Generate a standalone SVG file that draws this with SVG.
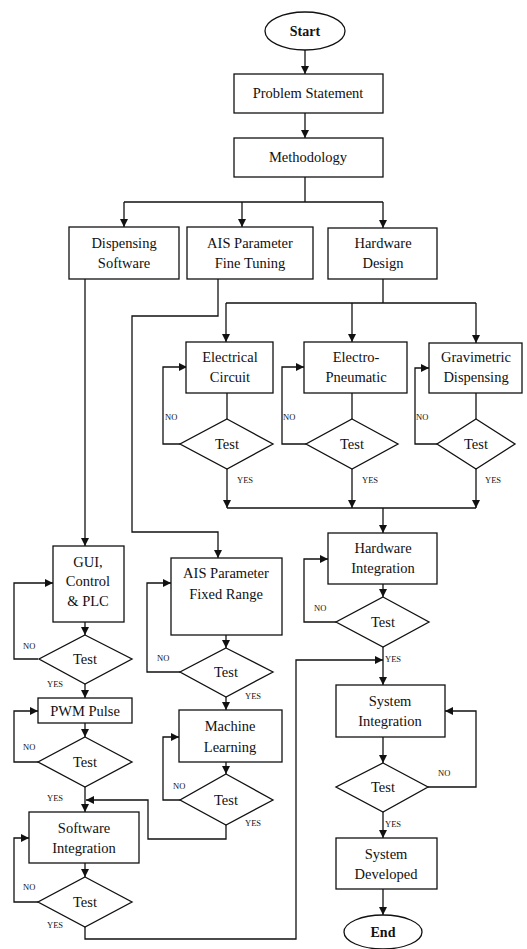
<svg xmlns="http://www.w3.org/2000/svg" width="527" height="949" viewBox="0 0 527 949">
<style>
.n{fill:#fff;stroke:#111;stroke-width:1.3}
.t{font-family:"Liberation Serif","Times New Roman",serif;font-size:14.5px;fill:#111;text-anchor:middle}
.b{font-weight:bold;font-size:14px}
.c{fill:none;stroke:#111;stroke-width:1.3}
.a{marker-end:url(#ah)}
.l{font-family:"Liberation Serif","Times New Roman",serif;font-size:8.5px;fill:#111}
</style>
<defs>
<marker id="ah" markerUnits="userSpaceOnUse" markerWidth="8" markerHeight="8" refX="8" refY="4" orient="auto">
<path d="M0,0 L8,4 L0,8 Z" fill="#111"/>
</marker>
</defs>
<rect width="527" height="949" fill="#fff"/>
<g id="connectors">
<path class="c a" d="M305,50 V74"/>
<path class="c a" d="M305,113 V138"/>
<path class="c" d="M305,177 V202 M124,202 H383"/>
<path class="c a" d="M124,202 V227"/>
<path class="c a" d="M242,202 V227"/>
<path class="c a" d="M383,202 V228"/>
<path class="c a" d="M85,279 V546"/>
<path class="c a" d="M218,279 V316 H132 V532 H218 V558"/>
<path class="c" d="M383,279 V303 M226,303 H476"/>
<path class="c a" d="M226,303 V342"/>
<path class="c a" d="M352,303 V342"/>
<path class="c a" d="M476,303 V343"/>
<path class="c" d="M227,393 V419 M352,393 V419 M476,393 V419"/>
<path class="c a" d="M180,444 H163 V367 H187"/>
<path class="c a" d="M306,444 H282 V367 H304"/>
<path class="c a" d="M437,444 H415 V368 H429"/>
<path class="c a" d="M227,469 V508"/>
<path class="c a" d="M352,469 V508"/>
<path class="c a" d="M476,469 V508"/>
<path class="c" d="M227,508 H476"/>
<path class="c a" d="M383,508 V533"/>
<path class="c a" d="M383,584 V597"/>
<path class="c a" d="M336,622 H304 V559 H328"/>
<path class="c a" d="M383,647 V685"/>
<path class="c a" d="M85,927 V939 H296 V660 H383"/>
<path class="c a" d="M383,737 V763"/>
<path class="c a" d="M428,787 H476 V711 H445"/>
<path class="c a" d="M383,812 V838"/>
<path class="c a" d="M383,889 V915"/>
<path class="c a" d="M85,622 V635"/>
<path class="c a" d="M38,659 H14 V583 H53"/>
<path class="c a" d="M85,684 V698"/>
<path class="c a" d="M85,723 V737"/>
<path class="c a" d="M38,762 H14 V711 H38"/>
<path class="c a" d="M85,787 V812"/>
<path class="c a" d="M85,863 V877"/>
<path class="c a" d="M38,902 H14 V838 H29"/>
<path class="c a" d="M226,635 V648"/>
<path class="c a" d="M180,672 H147 V583 H171"/>
<path class="c a" d="M226,697 V710"/>
<path class="c a" d="M226,762 V774"/>
<path class="c a" d="M180,800 H163 V737 H179"/>
<path class="c a" d="M226,825 V839 H148 V800 H86"/>
</g>
<g id="labels">
<text class="l" x="165" y="420">NO</text>
<text class="l" x="283" y="420">NO</text>
<text class="l" x="416" y="420">NO</text>
<text class="l" x="237" y="483">YES</text>
<text class="l" x="362" y="483">YES</text>
<text class="l" x="485" y="483">YES</text>
<text class="l" x="314" y="611">NO</text>
<text class="l" x="385" y="662">YES</text>
<text class="l" x="438" y="776">NO</text>
<text class="l" x="385" y="827">YES</text>
<text class="l" x="23" y="649">NO</text>
<text class="l" x="47" y="687">YES</text>
<text class="l" x="23" y="750">NO</text>
<text class="l" x="47" y="801">YES</text>
<text class="l" x="23" y="890">NO</text>
<text class="l" x="47" y="928">YES</text>
<text class="l" x="157" y="661">NO</text>
<text class="l" x="245" y="699">YES</text>
<text class="l" x="173" y="789">NO</text>
<text class="l" x="245" y="826">YES</text>
</g>
<g id="start"><ellipse class="n" cx="305" cy="31" rx="40" ry="19"/><text class="t b" x="305" y="36">Start</text></g>
<g id="problem"><rect class="n" x="234" y="74" width="149" height="39"/><text class="t" x="308" y="98">Problem Statement</text></g>
<g id="methodology"><rect class="n" x="234" y="138" width="149" height="39"/><text class="t" x="308" y="162">Methodology</text></g>
<g id="dispensing-software"><rect class="n" x="69" y="227" width="110" height="52"/><text class="t" x="124" y="248">Dispensing</text><text class="t" x="124" y="268">Software</text></g>
<g id="ais-fine"><rect class="n" x="187" y="227" width="126" height="52"/><text class="t" x="250" y="248">AIS Parameter</text><text class="t" x="250" y="268">Fine Tuning</text></g>
<g id="hardware-design"><rect class="n" x="328" y="228" width="109" height="51"/><text class="t" x="383" y="248">Hardware</text><text class="t" x="383" y="268">Design</text></g>
<g id="electrical"><rect class="n" x="186" y="342" width="87" height="51"/><text class="t" x="230" y="362">Electrical</text><text class="t" x="230" y="382">Circuit</text></g>
<g id="electro-pneumatic"><rect class="n" x="304" y="342" width="103" height="51"/><text class="t" x="356" y="362">Electro-</text><text class="t" x="356" y="382">Pneumatic</text></g>
<g id="gravimetric"><rect class="n" x="429" y="343" width="93" height="50"/><text class="t" x="476" y="362">Gravimetric</text><text class="t" x="476" y="382">Dispensing</text></g>
<g id="test-elec"><polygon class="n" points="227,419 273,444 227,469 180,444"/><text class="t" x="227" y="449">Test</text></g>
<g id="test-ep"><polygon class="n" points="352,419 398,444 352,469 306,444"/><text class="t" x="352" y="449">Test</text></g>
<g id="test-grav"><polygon class="n" points="476,419 515,444 476,469 437,444"/><text class="t" x="476" y="449">Test</text></g>
<g id="hardware-integration"><rect class="n" x="328" y="533" width="109" height="51"/><text class="t" x="383" y="553">Hardware</text><text class="t" x="383" y="573">Integration</text></g>
<g id="test-hw"><polygon class="n" points="383,597 429,622 383,647 336,622"/><text class="t" x="383" y="627">Test</text></g>
<g id="system-integration"><rect class="n" x="336" y="685" width="109" height="52"/><text class="t" x="390" y="706">System</text><text class="t" x="390" y="726">Integration</text></g>
<g id="test-sys"><polygon class="n" points="383,763 428,787 383,812 336,787"/><text class="t" x="383" y="792">Test</text></g>
<g id="system-developed"><rect class="n" x="336" y="838" width="101" height="51"/><text class="t" x="386" y="859">System</text><text class="t" x="386" y="879">Developed</text></g>
<g id="end"><ellipse class="n" cx="383" cy="932" rx="39" ry="17"/><text class="t b" x="383" y="937">End</text></g>
<g id="gui"><rect class="n" x="53" y="546" width="71" height="76"/><text class="t" x="88" y="567">GUI,</text><text class="t" x="88" y="586">Control</text><text class="t" x="88" y="606">&amp; PLC</text></g>
<g id="test-gui"><polygon class="n" points="85,635 132,659 85,684 39,659"/><text class="t" x="85" y="664">Test</text></g>
<g id="pwm"><rect class="n" x="38" y="698" width="94" height="25"/><text class="t" x="85" y="716">PWM Pulse</text></g>
<g id="test-pwm"><polygon class="n" points="85,737 132,762 85,787 38,762"/><text class="t" x="85" y="767">Test</text></g>
<g id="software-integration"><rect class="n" x="29" y="812" width="110" height="51"/><text class="t" x="84" y="833">Software</text><text class="t" x="84" y="853">Integration</text></g>
<g id="test-sw"><polygon class="n" points="85,877 132,902 85,927 38,902"/><text class="t" x="85" y="907">Test</text></g>
<g id="ais-fixed"><rect class="n" x="171" y="558" width="111" height="77"/><text class="t" x="226" y="578">AIS Parameter</text><text class="t" x="226" y="599">Fixed Range</text></g>
<g id="test-ais"><polygon class="n" points="226,648 273,672 226,697 180,672"/><text class="t" x="226" y="677">Test</text></g>
<g id="machine-learning"><rect class="n" x="179" y="710" width="103" height="52"/><text class="t" x="230" y="731">Machine</text><text class="t" x="230" y="752">Learning</text></g>
<g id="test-ml"><polygon class="n" points="226,774 273,800 226,825 180,800"/><text class="t" x="226" y="805">Test</text></g>
</svg>
